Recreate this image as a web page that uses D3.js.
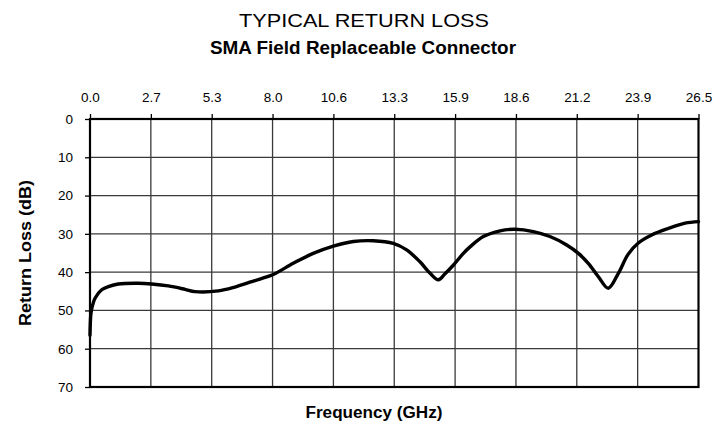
<!DOCTYPE html>
<html>
<head>
<meta charset="utf-8">
<script src="https://cdn.jsdelivr.net/npm/d3@7"></script>
<style>
  html, body { margin: 0; padding: 0; background: #fff; }
  svg { display: block; font-family: "Liberation Sans", Arial, sans-serif; }
</style>
</head>
<body>
<svg id="chart" width="727" height="435"></svg>
<script>
// Return loss of an SMA field replaceable connector vs. frequency
const freqTicks = [0, 2.65, 5.3, 7.95, 10.6, 13.25, 15.9, 18.55, 21.2, 23.85, 26.5];
const freqTickLabels = ["0.0", "2.7", "5.3", "8.0", "10.6", "13.3", "15.9", "18.6", "21.2", "23.9", "26.5"];
const lossTicks = [0, 10, 20, 30, 40, 50, 60, 70];

const freqGHz = [0.00, 0.03, 0.07, 0.22, 0.51, 0.80, 1.23, 2.10, 2.69, 3.41, 4.14, 4.57, 5.59, 6.31, 7.04, 7.40,
  7.98, 8.85, 9.72, 10.60, 11.47, 12.34, 13.21, 13.79, 14.37, 14.81, 15.17, 15.45, 15.82, 16.26, 16.55, 17.13,
  17.86, 18.51, 19.31, 20.03, 20.76, 21.27, 21.70, 22.14, 22.57, 23.01, 23.44, 23.88, 24.46, 25.18, 25.92, 26.50];
const returnLossDb = [56.5, 51.5, 49.7, 46.8, 44.6, 43.8, 43.1, 42.9, 43.1, 43.6, 44.5, 45.1, 44.9, 43.9, 42.5, 41.8,
  40.6, 37.7, 35.1, 33.2, 32.0, 31.8, 32.5, 34.2, 37.3, 40.3, 42.0, 40.5, 38.2, 35.1, 33.4, 30.7,
  29.2, 28.8, 29.4, 30.7, 32.9, 35.1, 37.7, 41.2, 44.2, 40.3, 35.3, 32.4, 30.3, 28.6, 27.2, 26.8];

const svg = d3.select("#chart");
const plot = { left: 90, right: 698.5, top: 119, bottom: 387 };

const x = d3.scaleLinear().domain([0, 26.5]).range([plot.left, plot.right]);
const y = d3.scaleLinear().domain([0, 70]).range([plot.top, plot.bottom]);

// Titles
svg.append("text").attr("x", 364).attr("y", 27).attr("text-anchor", "middle")
  .attr("font-size", 19).attr("textLength", 250).attr("lengthAdjust", "spacingAndGlyphs")
  .text("TYPICAL RETURN LOSS");
svg.append("text").attr("x", 363).attr("y", 54).attr("text-anchor", "middle")
  .attr("font-size", 18.5).attr("font-weight", "bold").attr("textLength", 306).attr("lengthAdjust", "spacingAndGlyphs")
  .text("SMA Field Replaceable Connector");

// Grid
const grid = svg.append("g").attr("stroke", "#3a3a3a").attr("stroke-width", 1.3);
grid.selectAll("line.v").data(freqTicks.slice(1, -1)).join("line").attr("class", "v")
  .attr("x1", d => x(d)).attr("x2", d => x(d)).attr("y1", plot.top).attr("y2", plot.bottom);
grid.selectAll("line.h").data(lossTicks.slice(1, -1)).join("line").attr("class", "h")
  .attr("y1", d => y(d)).attr("y2", d => y(d)).attr("x1", plot.left).attr("x2", plot.right);

// Axes
const xAxis = svg.append("g").attr("transform", `translate(0,${plot.top})`)
  .call(d3.axisTop(x).tickValues(freqTicks).tickFormat((d, i) => freqTickLabels[i]).tickSize(5).tickSizeOuter(0).tickPadding(12));
const yAxis = svg.append("g").attr("transform", `translate(${plot.left},0)`)
  .call(d3.axisLeft(y).tickValues(lossTicks).tickSize(5).tickSizeOuter(0).tickPadding(12));
[xAxis, yAxis].forEach(a => {
  a.select(".domain").remove();
  a.selectAll(".tick line").attr("stroke", "#000").attr("stroke-width", 1.3);
  a.selectAll(".tick text").attr("font-size", 13.5).attr("fill", "#000")
    .attr("font-family", "'Liberation Sans', Arial, sans-serif");
});

// Plot frame
svg.append("rect").attr("x", plot.left).attr("y", plot.top)
  .attr("width", plot.right - plot.left).attr("height", plot.bottom - plot.top)
  .attr("fill", "none").attr("stroke", "#000").attr("stroke-width", 2.2);

// Curve
const line = d3.line().x((d, i) => x(freqGHz[i])).y(d => y(d)).curve(d3.curveCatmullRom.alpha(0.5));
svg.append("path").datum(returnLossDb).attr("d", line)
  .attr("fill", "none").attr("stroke", "#000").attr("stroke-width", 3.4)
  .attr("stroke-linejoin", "round").attr("stroke-linecap", "round");

// Axis titles
svg.append("text").attr("transform", `translate(25,${(plot.top + plot.bottom) / 2}) rotate(-90)`)
  .attr("text-anchor", "middle").attr("dy", "0.35em")
  .attr("font-size", 16).attr("font-weight", "bold").attr("textLength", 146).attr("lengthAdjust", "spacingAndGlyphs")
  .text("Return Loss (dB)");
svg.append("text").attr("x", 374).attr("y", 418).attr("text-anchor", "middle")
  .attr("font-size", 16).attr("font-weight", "bold").attr("textLength", 137).attr("lengthAdjust", "spacingAndGlyphs")
  .text("Frequency (GHz)");
</script>
</body>
</html>
